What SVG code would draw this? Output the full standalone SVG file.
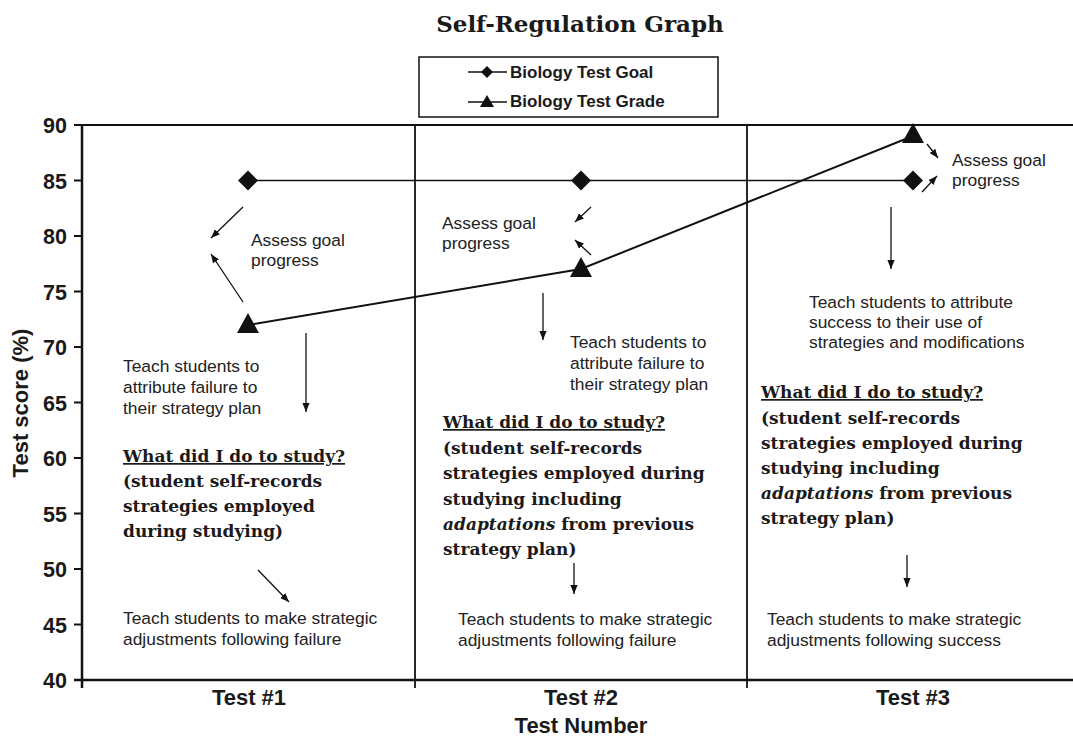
<svg xmlns="http://www.w3.org/2000/svg" width="1073" height="736" viewBox="0 0 1073 736">
  <defs>
    <marker id="head" viewBox="0 0 10 8" refX="10" refY="4" markerWidth="9" markerHeight="7.2" markerUnits="userSpaceOnUse" orient="auto">
      <path d="M0,0 L10,4 L0,8 z" fill="#111"/>
    </marker>
    <path id="diamond" d="M0,-10 L10,0 L0,10 L-10,0 z" fill="#111"/>
    <path id="tri" d="M0,-12 L11,8 L-11,8 z" fill="#111"/>
  </defs>
  <style>
    .title { font-family: "DejaVu Serif", serif; font-weight: bold; font-size: 23px; fill: #1a1a1a; }
    .legend { font-family: "Liberation Sans", Arial, sans-serif; font-weight: bold; font-size: 17px; fill: #1a1a1a; }
    .tick { font-family: "Liberation Sans", Arial, sans-serif; font-weight: bold; font-size: 21.5px; fill: #1a1a1a; text-anchor: end; }
    .axis-title { font-family: "Liberation Sans", Arial, sans-serif; font-weight: bold; font-size: 22px; fill: #1a1a1a; text-anchor: middle; }
    .note { font-family: "Liberation Sans", Arial, sans-serif; font-size: 17.4px; fill: #222; }
    .study { font-family: "DejaVu Serif", serif; font-weight: bold; font-size: 17px; fill: #1a1a1a; }
    .study .head { text-decoration: underline; }
    .frame { stroke: #111; fill: none; }
    .arrow { stroke: #111; stroke-width: 1.3; fill: none; marker-end: url(#head); }
  </style>
  <rect width="1073" height="736" fill="#fff"/>

  <!-- title -->
  <text class="title" x="580" y="32" text-anchor="middle">Self-Regulation Graph</text>

  <!-- legend -->
  <g id="legend">
    <rect x="419" y="57" width="299" height="60" fill="#fff" stroke="#111" stroke-width="1.5"/>
    <line x1="468" y1="72" x2="507" y2="72" stroke="#111" stroke-width="1.5"/>
    <path d="M487,66 L493,72 L487,78 L481,72 z" fill="#111"/>
    <text class="legend" x="510" y="78">Biology Test Goal</text>
    <line x1="468" y1="102" x2="507" y2="102" stroke="#111" stroke-width="1.5"/>
    <path d="M487,95 L494,107 L480,107 z" fill="#111"/>
    <text class="legend" x="510" y="107">Biology Test Grade</text>
  </g>

  <!-- plot frame, dividers and axes -->
  <g id="axes">
    <line class="frame" x1="82" y1="125" x2="1073" y2="125" stroke-width="2"/>
    <line class="frame" x1="415" y1="125" x2="415" y2="688" stroke-width="1.8"/>
    <line class="frame" x1="747" y1="125" x2="747" y2="688" stroke-width="1.8"/>
    <line class="frame" x1="82" y1="124" x2="82" y2="688" stroke-width="2.5"/>
    <line class="frame" x1="74" y1="680" x2="1073" y2="680" stroke-width="2.5"/>
    <g class="frame" stroke-width="2">
      <line x1="74" y1="125" x2="82" y2="125"/>
      <line x1="74" y1="180.5" x2="82" y2="180.5"/>
      <line x1="74" y1="236" x2="82" y2="236"/>
      <line x1="74" y1="291.5" x2="82" y2="291.5"/>
      <line x1="74" y1="347" x2="82" y2="347"/>
      <line x1="74" y1="402.5" x2="82" y2="402.5"/>
      <line x1="74" y1="458" x2="82" y2="458"/>
      <line x1="74" y1="513.5" x2="82" y2="513.5"/>
      <line x1="74" y1="569" x2="82" y2="569"/>
      <line x1="74" y1="624.5" x2="82" y2="624.5"/>
    </g>
    <text class="tick" x="67" y="133">90</text>
    <text class="tick" x="67" y="188.5">85</text>
    <text class="tick" x="67" y="244">80</text>
    <text class="tick" x="67" y="299.5">75</text>
    <text class="tick" x="67" y="355">70</text>
    <text class="tick" x="67" y="410.5">65</text>
    <text class="tick" x="67" y="466">60</text>
    <text class="tick" x="67" y="521.5">55</text>
    <text class="tick" x="67" y="577">50</text>
    <text class="tick" x="67" y="632.5">45</text>
    <text class="tick" x="67" y="688">40</text>
    <text class="axis-title" transform="translate(28,403) rotate(-90)">Test score (%)</text>
    <text class="axis-title" x="249" y="705">Test #1</text>
    <text class="axis-title" x="581" y="705">Test #2</text>
    <text class="axis-title" x="913" y="705">Test #3</text>
    <text class="axis-title" x="581" y="733">Test Number</text>
  </g>

  <!-- data series and annotation arrows -->
  <g id="connectors">
    <line x1="248" y1="180.5" x2="913" y2="180.5" stroke="#111" stroke-width="1.5"/>
    <polyline points="248,325 581,269 913,136" fill="none" stroke="#111" stroke-width="2"/>
    <use href="#diamond" x="248" y="180.5"/>
    <use href="#diamond" x="581" y="180.5"/>
    <use href="#diamond" x="913" y="180.5"/>
    <use href="#tri" x="248" y="325"/>
    <use href="#tri" x="581" y="269"/>
    <use href="#tri" x="913" y="135"/>

    <line class="arrow" x1="243" y1="207" x2="211" y2="238"/>
    <line class="arrow" x1="243" y1="302" x2="211" y2="254"/>
    <line class="arrow" x1="306" y1="333" x2="306" y2="412"/>
    <line class="arrow" x1="258" y1="570" x2="289" y2="602"/>
    <line class="arrow" x1="591" y1="207" x2="575" y2="222"/>
    <line class="arrow" x1="591" y1="255" x2="575" y2="240"/>
    <line class="arrow" x1="543" y1="293" x2="543" y2="340"/>
    <line class="arrow" x1="574" y1="563" x2="574" y2="594"/>
    <line class="arrow" x1="927" y1="144" x2="938" y2="158"/>
    <line class="arrow" x1="922" y1="192" x2="937" y2="176"/>
    <line class="arrow" x1="891" y1="207" x2="891" y2="269"/>
    <line class="arrow" x1="907" y1="555" x2="907" y2="587"/>
  </g>

  <!-- Test #1 annotations -->
  <g id="assess1" class="note">
    <text x="251" y="246">Assess goal</text>
    <text x="251" y="266">progress</text>
  </g>
  <g id="attribute1" class="note">
    <text x="123" y="372">Teach students to</text>
    <text x="123" y="393">attribute failure to</text>
    <text x="123" y="414">their strategy plan</text>
  </g>
  <g id="study1" class="study">
    <text class="head" x="123" y="462">What did I do to study?</text>
    <text x="123" y="487">(student self-records</text>
    <text x="123" y="512">strategies employed</text>
    <text x="123" y="537">during studying)</text>
  </g>
  <g id="adjust1" class="note">
    <text x="123" y="624">Teach students to make strategic</text>
    <text x="123" y="645">adjustments following failure</text>
  </g>

  <!-- Test #2 annotations -->
  <g id="assess2" class="note">
    <text x="442" y="229">Assess goal</text>
    <text x="442" y="249">progress</text>
  </g>
  <g id="attribute2" class="note">
    <text x="570" y="348">Teach students to</text>
    <text x="570" y="369">attribute failure to</text>
    <text x="570" y="390">their strategy plan</text>
  </g>
  <g id="study2" class="study">
    <text class="head" x="443" y="428">What did I do to study?</text>
    <text x="443" y="454">(student self-records</text>
    <text x="443" y="479">strategies employed during</text>
    <text x="443" y="505">studying including</text>
    <text x="443" y="530"><tspan font-style="italic">adaptations</tspan> from previous</text>
    <text x="443" y="555">strategy plan)</text>
  </g>
  <g id="adjust2" class="note">
    <text x="458" y="625">Teach students to make strategic</text>
    <text x="458" y="646">adjustments following failure</text>
  </g>

  <!-- Test #3 annotations -->
  <g id="assess3" class="note">
    <text x="952" y="166">Assess goal</text>
    <text x="952" y="186">progress</text>
  </g>
  <g id="attribute3" class="note">
    <text x="809" y="308">Teach students to attribute</text>
    <text x="809" y="328">success to their use of</text>
    <text x="809" y="348">strategies and modifications</text>
  </g>
  <g id="study3" class="study">
    <text class="head" x="761" y="398">What did I do to study?</text>
    <text x="761" y="424">(student self-records</text>
    <text x="761" y="449">strategies employed during</text>
    <text x="761" y="474">studying including</text>
    <text x="761" y="499"><tspan font-style="italic">adaptations</tspan> from previous</text>
    <text x="761" y="524">strategy plan)</text>
  </g>
  <g id="adjust3" class="note">
    <text x="767" y="625">Teach students to make strategic</text>
    <text x="767" y="646">adjustments following success</text>
  </g>
</svg>
